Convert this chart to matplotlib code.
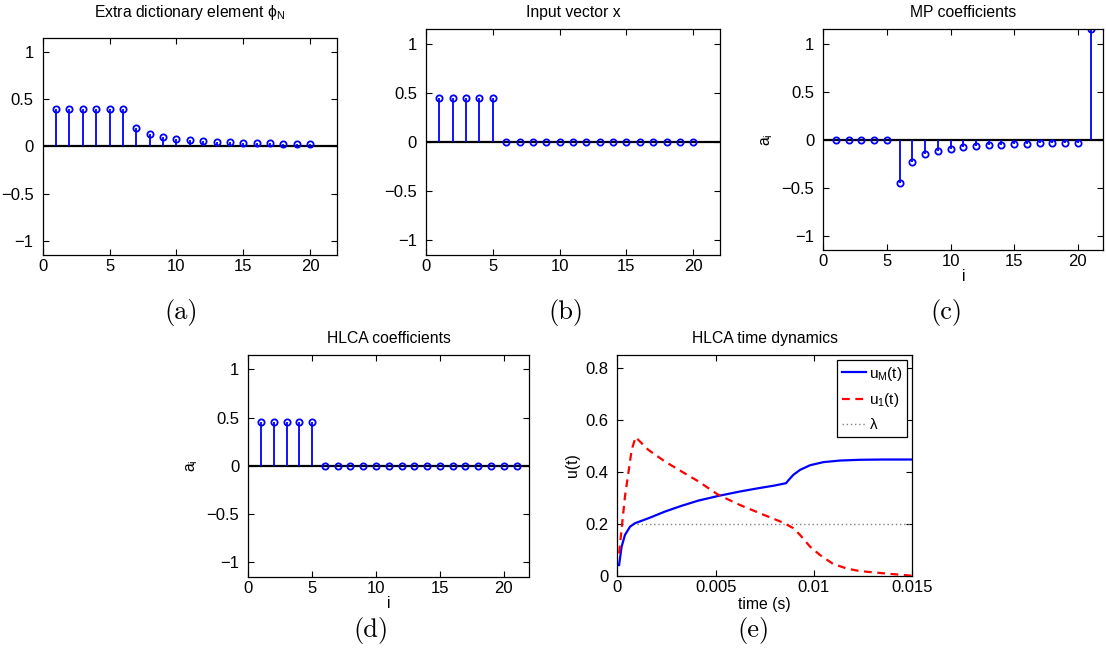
import matplotlib
matplotlib.use('Agg')
import matplotlib.pyplot as plt

plt.rcParams['font.family'] = ['Liberation Sans', 'DejaVu Sans']
plt.rcParams['mathtext.fontset'] = 'custom'
plt.rcParams['mathtext.rm'] = 'Liberation Sans'
plt.rcParams['mathtext.it'] = 'Liberation Sans'
plt.rcParams['mathtext.bf'] = 'Liberation Sans:bold'
plt.rcParams['axes.unicode_minus'] = True

# ---------------- data ----------------
idx20 = list(range(1, 21))
idx21 = list(range(1, 22))

phi_N = [0.398, 0.398, 0.398, 0.398, 0.398, 0.398, 0.200, 0.134, 0.101, 0.081,
         0.067, 0.058, 0.051, 0.045, 0.041, 0.037, 0.034, 0.031, 0.029, 0.028]

x_input = [0.45, 0.45, 0.45, 0.45, 0.45, 0, 0, 0, 0, 0,
           0, 0, 0, 0, 0, 0, 0, 0, 0, 0]

mp_coef = [0, 0, 0, 0, 0, -0.455, -0.229, -0.153, -0.116, -0.093,
           -0.078, -0.067, -0.059, -0.052, -0.047, -0.043, -0.040, -0.037,
           -0.034, -0.032, 1.153]

hlca_coef = [0.45, 0.45, 0.45, 0.45, 0.45, 0, 0, 0, 0, 0, 0,
             0, 0, 0, 0, 0, 0, 0, 0, 0, 0]

t_M = [0.00009, 0.00022, 0.00039, 0.00065, 0.0009, 0.00158, 0.00243, 0.00327,
       0.00412, 0.00514, 0.00624, 0.0072, 0.0080, 0.00858, 0.0087, 0.00895,
       0.00929, 0.0098, 0.01048, 0.01132, 0.01234, 0.0135, 0.015]
u_M = [0.042, 0.113, 0.158, 0.190, 0.203, 0.222, 0.248, 0.270,
       0.290, 0.308, 0.325, 0.338, 0.348, 0.357, 0.368, 0.389,
       0.408, 0.426, 0.438, 0.444, 0.447, 0.448, 0.448]

t_1 = [0.00009, 0.00039, 0.00056, 0.00073, 0.00093, 0.00158, 0.00243, 0.00327,
       0.00412, 0.00514, 0.00624, 0.00726, 0.00844, 0.00895, 0.00929, 0.0098,
       0.0103, 0.01098, 0.01166, 0.01225, 0.0126, 0.0139, 0.015]
u_1 = [0.087, 0.306, 0.395, 0.485, 0.534, 0.485, 0.440, 0.402,
       0.364, 0.312, 0.273, 0.241, 0.205, 0.184, 0.158, 0.113,
       0.081, 0.046, 0.029, 0.020, 0.017, 0.008, 0.001]

lam_t = [0.001, 0.015]
lam_u = [0.2, 0.2]

stem_xticks = [0, 5, 10, 15, 20]
stem_xticklabels = ['0', '5', '10', '15', '20']
stem_yticks = [-1, -0.5, 0, 0.5, 1]
stem_yticklabels = ['\u22121', '\u22120.5', '0', '0.5', '1']
dyn_xticks = [0, 0.005, 0.01, 0.015]
dyn_xticklabels = ['0', '0.005', '0.01', '0.015']
dyn_yticks = [0, 0.2, 0.4, 0.6, 0.8]
dyn_yticklabels = ['0', '0.2', '0.4', '0.6', '0.8']

# ---------------- figure ----------------
W, H = 1106, 650
fig = plt.figure(figsize=(W / 100, H / 100), dpi=100)


def px_axes(left, top, right, bottom):
    return fig.add_axes([left / W, 1 - bottom / H, (right - left) / W, (bottom - top) / H])


TICK_FS = 12
TITLE_FS = 11.3
LABEL_FS = 11.3


def style(ax):
    ax.tick_params(direction='in', top=True, right=True, length=4, width=0.8,
                   labelsize=TICK_FS)
    ax.tick_params(axis='x', pad=3)
    ax.tick_params(axis='y', pad=6.5)
    for s in ax.spines.values():
        s.set_linewidth(0.9)


def stem_panel(ax, idx, vals, title, title_pad):
    ml, sl, bl = ax.stem(idx, vals, linefmt='-', markerfmt='o', basefmt='-')
    bl.set_visible(False)
    sl.set_color('#0000ff')
    sl.set_linewidth(1.3)
    ml.set_markerfacecolor('none')
    ml.set_markeredgecolor('#0000ff')
    ml.set_markersize(4.5)
    ml.set_markeredgewidth(1.3)
    ax.axhline(0, color='black', lw=1.6, zorder=1)
    ax.set_xlim(0, 22)
    ax.set_ylim(-1.15, 1.15)
    ax.set_xticks(stem_xticks)
    ax.set_xticklabels(stem_xticklabels)
    ax.set_yticks(stem_yticks)
    ax.set_yticklabels(stem_yticklabels)
    ax.set_title(title, fontsize=TITLE_FS, pad=title_pad)
    style(ax)


ax_a = px_axes(42.7, 38, 337, 255)
stem_panel(ax_a, idx20, phi_N, 'Extra dictionary element $\\phi_N$', 15.4)

ax_b = px_axes(426, 29.3, 720, 255)
stem_panel(ax_b, idx20, x_input, 'Input vector x', 8.6)

ax_c = px_axes(823.3, 29.3, 1103.3, 250)
stem_panel(ax_c, idx21, mp_coef, 'MP coefficients', 9)
ax_c.set_xlabel('i', fontsize=LABEL_FS, labelpad=0)
ax_c.set_ylabel('$a_i$', fontsize=LABEL_FS, labelpad=5)

ax_d = px_axes(248.3, 355, 529.3, 576.7)
stem_panel(ax_d, idx21, hlca_coef, 'HLCA coefficients', 8.9)
ax_d.set_xlabel('i', fontsize=LABEL_FS, labelpad=0)
ax_d.set_ylabel('$a_i$', fontsize=LABEL_FS, labelpad=5)

ax_e = px_axes(617.3, 355, 912.3, 576)
ax_e.plot(t_M, u_M, color='#0000ff', lw=1.6, label='$u_M(t)$', zorder=3)
ax_e.plot(t_1, u_1, color='#ff0000', lw=1.6, dashes=(3.5, 2.5), label='$u_1(t)$', zorder=3)
ax_e.plot(lam_t, lam_u, color='#808080', lw=1.0, linestyle=(0, (1, 2)), label='$\\lambda$', zorder=2)
ax_e.set_xlim(0, 0.015)
ax_e.set_ylim(0, 0.85)
ax_e.set_xticks(dyn_xticks)
ax_e.set_xticklabels(dyn_xticklabels)
ax_e.set_yticks(dyn_yticks)
ax_e.set_yticklabels(dyn_yticklabels)
ax_e.set_title('HLCA time dynamics', fontsize=TITLE_FS, pad=8.9)
ax_e.set_xlabel('time (s)', fontsize=LABEL_FS, labelpad=1)
ax_e.set_ylabel('u(t)', fontsize=LABEL_FS, labelpad=4)
style(ax_e)
leg = ax_e.legend(loc='upper right', bbox_to_anchor=(0.983, 0.977), fontsize=11,
                  fancybox=False, framealpha=1, edgecolor='black', borderpad=0.3,
                  handlelength=1.6, handletextpad=0.2, labelspacing=0.55,
                  borderaxespad=0)
leg.get_frame().set_linewidth(0.9)

# sub-figure labels
for lab, (x, y) in zip(['(a)', '(b)', '(c)', '(d)', '(e)'],
                       [(181, 312), (566, 312), (946, 312), (371, 630), (754, 630)]):
    fig.text(x / W, 1 - y / H, lab, family='cmr10', fontsize=19,
             ha='center', va='center')

fig.savefig('out.png', dpi=100)
